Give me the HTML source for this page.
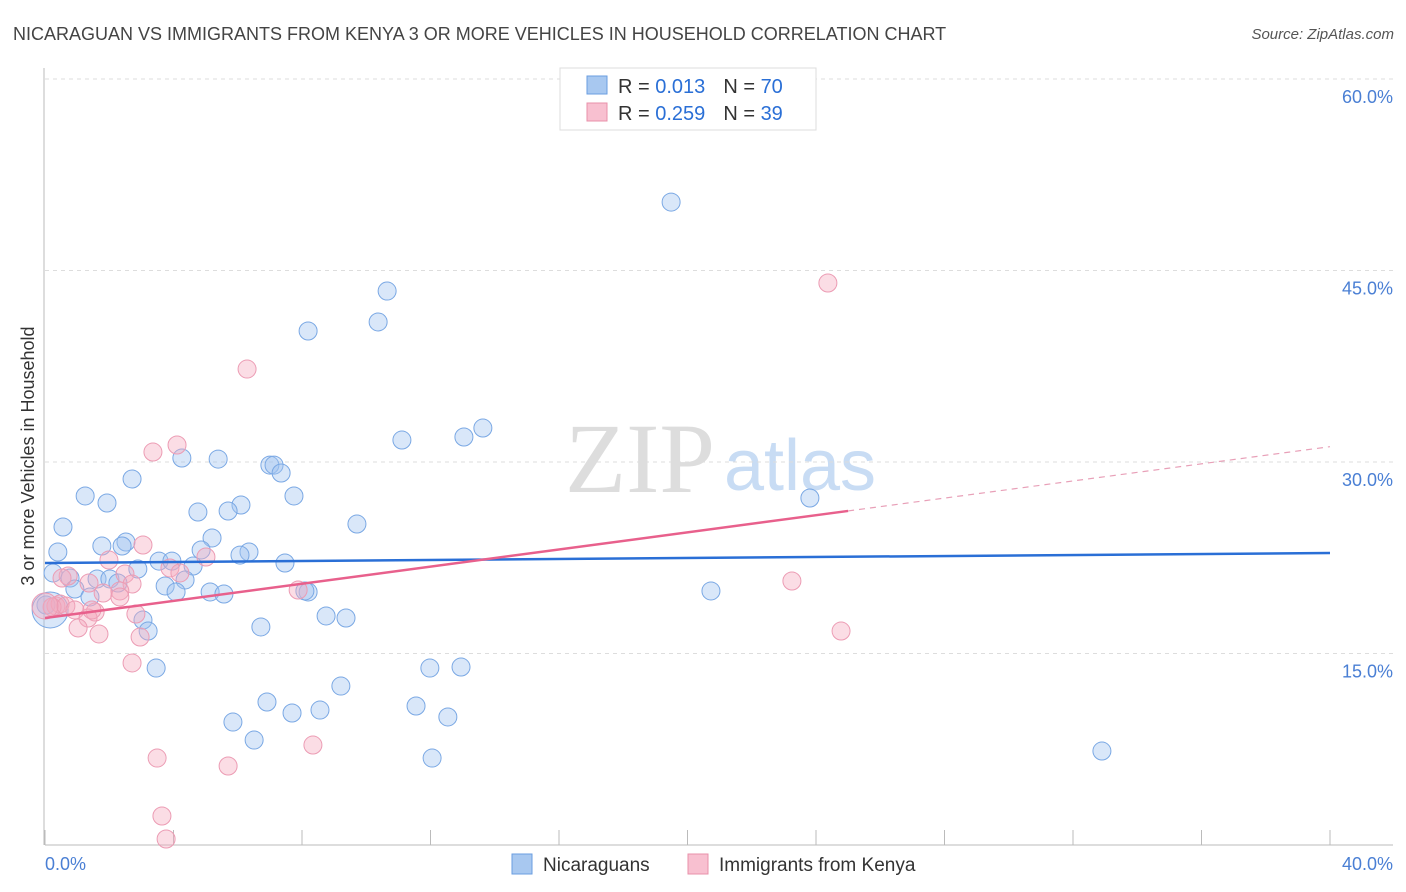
<!DOCTYPE html>
<html><head><meta charset="utf-8"><style>
body{margin:0;background:#fff;font-family:"Liberation Sans",sans-serif;}
svg{display:block}
</style></head><body>
<svg id="c" width="1406" height="892">
<text x="13" y="40" font-size="18" fill="#444">NICARAGUAN VS IMMIGRANTS FROM KENYA 3 OR MORE VEHICLES IN HOUSEHOLD CORRELATION CHART</text>
<text x="1394" y="39" font-size="15" fill="#555" font-style="italic" text-anchor="end">Source: ZipAtlas.com</text>
<text x="640" y="492" font-size="100" fill="#ddd" font-family="Liberation Serif,serif" text-anchor="middle">ZIP</text>
<text x="800" y="490" font-size="72" fill="#c8dcf4" text-anchor="middle">atlas</text>
<g id="grid"></g>
<g id="pts"></g>
<g id="lines"></g>
<text transform="translate(34,456) rotate(-90)" font-size="18" fill="#333" text-anchor="middle">3 or more Vehicles in Household</text>
<g>
<rect x="560" y="68" width="256" height="62" fill="#fff" stroke="#ddd"/>
<rect x="587" y="76" width="20" height="18" fill="#a8c8f0" stroke="#6a9ee0"/>
<rect x="587" y="103" width="20" height="18" fill="#f8c0d0" stroke="#e890aa"/>
<text x="618" y="93" font-size="20" fill="#333">R = <tspan fill="#2a6fd6">0.013</tspan><tspan dx="18">N = </tspan><tspan fill="#2a6fd6">70</tspan></text>
<text x="618" y="120" font-size="20" fill="#333">R = <tspan fill="#2a6fd6">0.259</tspan><tspan dx="18">N = </tspan><tspan fill="#2a6fd6">39</tspan></text>
</g>
<g>
<rect x="512" y="854" width="20" height="20" fill="#a8c8f0" stroke="#6a9ee0"/>
<text x="543" y="871" font-size="19" fill="#333">Nicaraguans</text>
<rect x="688" y="854" width="20" height="20" fill="#f8c0d0" stroke="#e890aa"/>
<text x="719" y="871" font-size="19" fill="#333">Immigrants from Kenya</text>
</g>
</svg>
<script>
const xTicks=[0,4,8,12,16,20,24,28,32,36,40];
const yTicks=[15,30,45,60];
const yTickLabels=["15.0%","30.0%","45.0%","60.0%"];
const xEndLabels=["0.0%","40.0%"];
const blueX=[19.49,10.65,10.37,8.19,13.63,13.04,11.11,4.26,5.39,7.00,7.13,7.35,2.71,1.25,7.75,1.93,23.81,6.10,4.76,5.70,9.71,0.56,1.77,2.52,0.40,5.20,2.40,4.86,6.35,6.07,3.55,3.95,7.47,4.61,2.89,0.25,0.78,1.62,2.02,4.36,3.74,0.93,2.27,4.08,5.14,5.57,8.19,8.09,20.73,1.40,3.05,3.21,8.75,9.37,6.72,3.46,11.98,12.95,9.21,6.91,11.55,7.69,8.56,12.54,5.85,6.51,32.90,12.05,0.03,0.16];
const blueY=[50.36,43.39,40.97,40.26,32.66,31.96,31.72,30.31,30.23,29.76,29.76,29.14,28.67,27.34,27.34,26.79,27.18,26.63,26.08,26.16,25.14,24.91,23.42,23.73,22.95,24.05,23.42,23.11,22.95,22.71,22.24,22.24,22.09,21.85,21.62,21.31,20.91,20.84,20.84,20.76,20.29,20.05,20.52,19.82,19.82,19.66,19.82,19.90,19.90,19.43,17.62,16.76,17.94,17.78,17.08,13.86,13.86,13.94,12.45,11.20,10.89,10.34,10.57,10.03,9.63,8.22,7.36,6.81,18.80,18.41];
const pinkX=[24.37,6.29,4.11,3.36,3.05,1.99,5.01,2.49,3.89,4.20,2.71,2.33,1.81,7.88,23.25,0.72,1.37,0.34,0.47,0.22,0.65,0.93,1.56,1.34,1.03,1.68,2.83,2.96,24.78,2.71,8.34,3.49,5.70,3.64,3.77,2.33,1.46,0.53,0];
const pinkY=[44.02,37.28,31.33,30.78,23.50,22.32,22.56,21.23,21.70,21.31,20.44,19.90,19.74,19.97,20.68,21.07,20.52,18.72,18.88,18.64,18.72,18.41,18.25,17.78,17.00,16.53,18.09,16.29,16.76,14.26,7.83,6.81,6.19,2.27,0.47,19.43,18.41,20.91,18.72];
const blueTrend=[22.09,22.87];
const pinkTrend=[17.78,31.2];
const pinkSolidEnd=25;
const NS="http://www.w3.org/2000/svg";
const X=v=>45+v*(1285/40);
const Y=v=>845-v*(766/60);
function mk(t,a,p){const e=document.createElementNS(NS,t);for(const k in a)e.setAttribute(k,a[k]);p.appendChild(e);return e;}
const grid=document.getElementById('grid');
yTicks.forEach((t,i)=>{
 const l=mk('line',{x1:45,x2:1393,y1:Y(t),y2:Y(t),stroke:'#ddd','stroke-dasharray':'4,4'},grid);
 
 
 const tx=mk('text',{x:1393,y:Y(t)+24,'font-size':18,fill:'#4a7fd4','text-anchor':'end'},grid);
 tx.textContent=yTickLabels[i];
 
 
});
const ax=mk('line',{x1:44,x2:44,y1:68,y2:845,stroke:'#bbb'},grid);


const bx=mk('line',{x1:45,x2:1393,y1:845,y2:845,stroke:'#bbb'},grid);


xTicks.forEach(t=>{
 const l=mk('line',{x1:X(t),x2:X(t),y1:830,y2:845,stroke:'#bbb'},grid);
 
 
});
[[0,'start'],[40,'end']].forEach((p,i)=>{
 const tx=mk('text',{x:i?1393:45,y:870,'font-size':18,fill:'#4a7fd4','text-anchor':p[1]},grid);
 tx.textContent=xEndLabels[i];
 
 
});
const pts=document.getElementById('pts');
function dots(xs,ys,fill,stroke,name,bigR){
 xs.forEach((x,i)=>{
  const r=(i===xs.length-1&&bigR)?bigR:9;
  const c=mk('circle',{cx:X(x),cy:Y(ys[i]),r:r,fill:fill,stroke:stroke,'stroke-width':1},pts);
  
  
 });
}
dots(blueX,blueY,'rgba(160,196,240,0.4)','#7aa8e4','nicaraguan-point',18);
dots(pinkX,pinkY,'rgba(245,170,190,0.4)','#ec9cb4','kenya-point',13);
const lines=document.getElementById('lines');
const bl=mk('line',{x1:X(0),y1:Y(blueTrend[0]),x2:X(40),y2:Y(blueTrend[1]),stroke:'#2a6fd6','stroke-width':2.5},lines);


const pm=pinkTrend[0]+(pinkTrend[1]-pinkTrend[0])*pinkSolidEnd/40;
const pl=mk('line',{x1:X(0),y1:Y(pinkTrend[0]),x2:X(pinkSolidEnd),y2:Y(pm),stroke:'#e8608c','stroke-width':2.5},lines);


const pd=mk('line',{x1:X(pinkSolidEnd),y1:Y(pm),x2:X(40),y2:Y(pinkTrend[1]),stroke:'#e8a0b8','stroke-width':1.2,'stroke-dasharray':'6,5'},lines);


</script>
</body></html>
